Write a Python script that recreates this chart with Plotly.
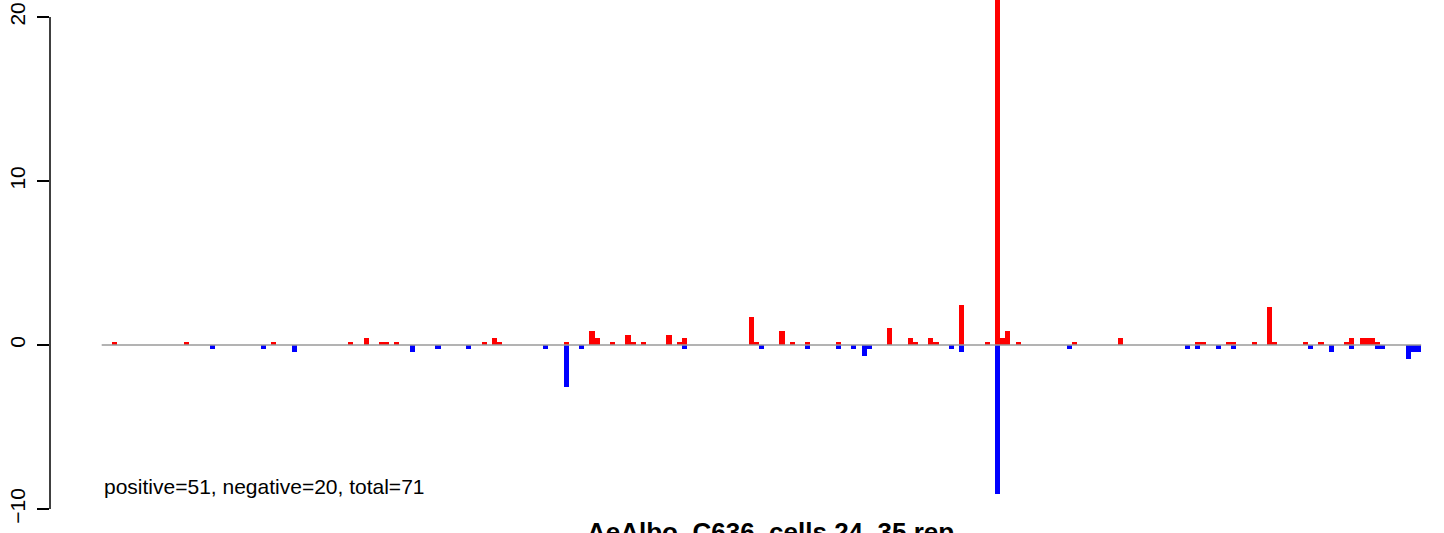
import plotly.graph_objects as go

# bin index of each bar (genome bins)
pos_bins = [0, 14, 31, 46, 49, 52, 53, 55, 72, 74, 75, 88, 93, 94, 97, 100, 101, 103, 108,
            110, 111, 124, 125, 130, 132, 135, 141, 151, 155, 156, 159, 160, 165, 170, 172,
            173, 174, 176, 187, 196, 211, 212, 217, 218, 222, 225, 226, 232, 235, 240, 241,
            243, 244, 245, 246]
pos_vals = [0.21, 0.21, 0.21, 0.21, 0.43, 0.21, 0.21, 0.21, 0.21, 0.43, 0.21, 0.21, 0.86, 0.43,
            0.21, 0.64, 0.21, 0.21, 0.64, 0.21, 0.43, 1.72, 0.21, 0.86, 0.21, 0.21, 0.21, 1.07,
            0.43, 0.21, 0.43, 0.21, 2.47, 0.21, 26.0, 0.43, 0.86, 0.21, 0.21, 0.43, 0.21, 0.21,
            0.21, 0.21, 0.21, 2.32, 0.21, 0.21, 0.21, 0.21, 0.43, 0.43, 0.43, 0.43, 0.21]

neg_bins = [19, 29, 35, 58, 63, 69, 84, 88, 91, 111, 126, 135, 141, 144, 146, 147, 163, 165,
            172, 186, 209, 211, 215, 218, 233, 237, 241, 246, 247, 252, 253, 254]
neg_vals = [-0.21, -0.21, -0.43, -0.43, -0.21, -0.21, -0.21, -2.55, -0.21, -0.21, -0.21, -0.21,
            -0.21, -0.21, -0.64, -0.21, -0.21, -0.43, -9.1, -0.21, -0.21, -0.21, -0.21, -0.21,
            -0.21, -0.43, -0.21, -0.21, -0.21, -0.86, -0.43, -0.43]

y_ticks = [-10, 0, 10, 20]
y_tick_labels = ["\u221210", "0", "10", "20"]
summary_text = "positive=51, negative=20, total=71"
title_text = "AeAlbo_C636_cells 24_35 rep"

FONT = "Liberation Sans, Arial, Helvetica, sans-serif"

fig = go.Figure()
fig.add_trace(go.Bar(x=pos_bins, y=pos_vals, width=1.0, marker=dict(color="#FF0000", line=dict(width=0)),
                     showlegend=False, hoverinfo="x+y"))
fig.add_trace(go.Bar(x=neg_bins, y=neg_vals, width=1.0, marker=dict(color="#0000FF", line=dict(width=0)),
                     showlegend=False, hoverinfo="x+y"))

# zero reference line across the bins
fig.add_shape(type="line", xref="x", yref="y", x0=-2.5, x1=254.5, y0=0, y1=0,
              line=dict(color="#9a9a9a", width=1.6), layer="above")
# y axis line spanning the tick range
fig.add_shape(type="line", xref="paper", yref="y", x0=0, x1=0, y0=-10, y1=20,
              line=dict(color="black", width=1.5))

fig.add_annotation(xref="x", yref="y", x=-2.5, y=-8.6, text=summary_text, showarrow=False,
                   xanchor="left", yanchor="middle", font=dict(family=FONT, size=21, color="black"))
fig.add_annotation(xref="paper", yref="paper", x=(770 - 50) / 1394, y=0.002, text="<b>" + title_text + "</b>",
                   showarrow=False, xanchor="center", yanchor="middle",
                   font=dict(family=FONT, size=26, color="black"))

fig.update_layout(
    width=1444, height=533,
    margin=dict(l=50, r=0, t=0, b=0),
    paper_bgcolor="white", plot_bgcolor="white",
    barmode="overlay", bargap=0,
    font=dict(family=FONT, size=21, color="black"),
    xaxis=dict(range=[-12.57, 258.95], showgrid=False, zeroline=False, showline=False,
               showticklabels=False, ticks=""),
    yaxis=dict(range=[-11.46, 21.04], showgrid=False, zeroline=False, showline=False,
               tickmode="array", tickvals=y_ticks, ticktext=y_tick_labels, tickangle=-90,
               ticks="outside", ticklen=12, tickwidth=1.5, tickcolor="black",
               ticklabelstandoff=4,
               tickfont=dict(family=FONT, size=21, color="black")),
)

fig.write_html("out.html", config={"displayModeBar": False},
               post_script="document.body.style.margin='0';document.body.style.padding='0';document.body.style.overflow='hidden';")
